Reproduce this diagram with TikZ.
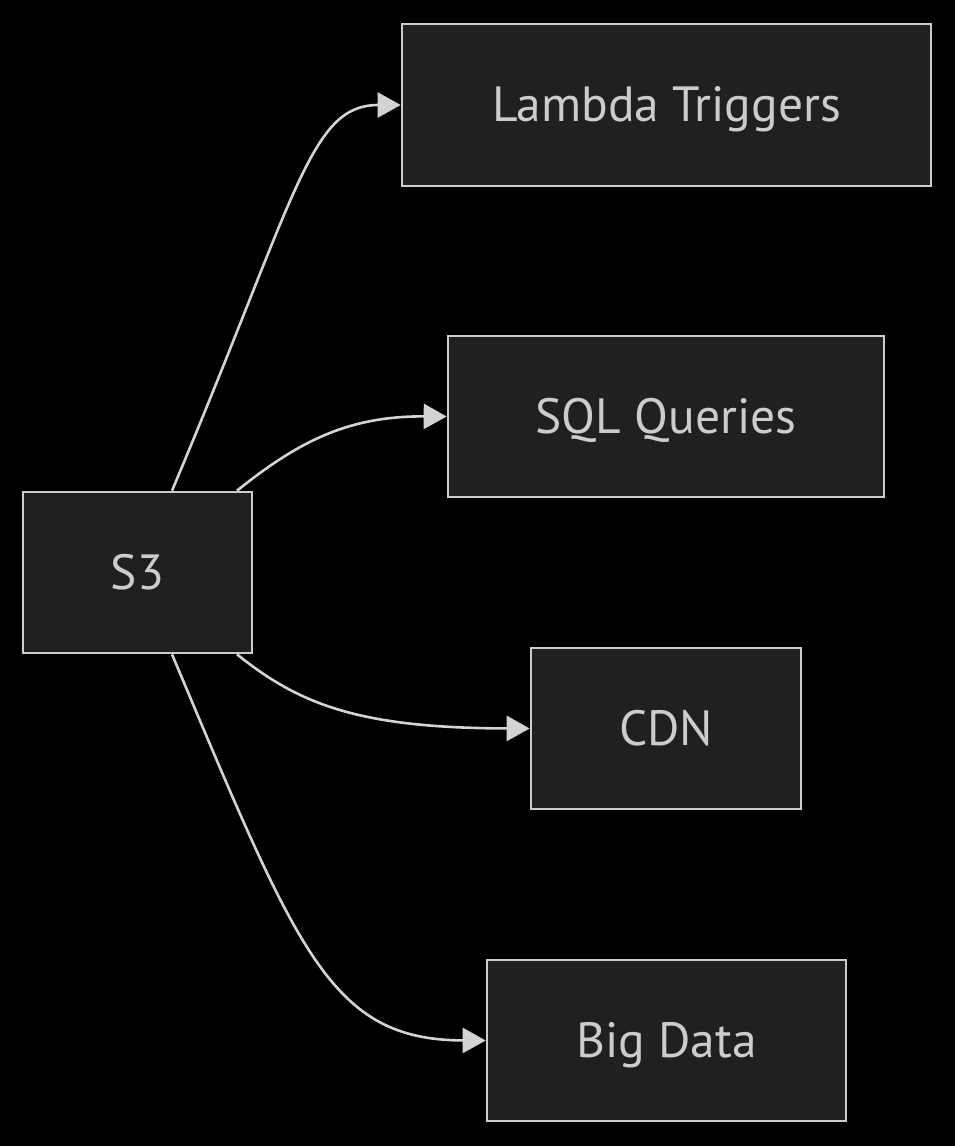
\documentclass[tikz,border=0pt]{standalone}
\usepackage{fontspec}
\setmainfont{PT Sans}
\usetikzlibrary{arrows.meta}
\definecolor{bg}{HTML}{000000}
\definecolor{boxfill}{HTML}{1F2020}
\definecolor{boxline}{HTML}{CCCCCC}
\definecolor{txt}{HTML}{CCCCCC}
\definecolor{edge}{HTML}{D3D3D3}
\begin{document}
\begin{tikzpicture}[x=1pt,y=-1pt,
  box/.style={draw=boxline,fill=boxfill,line width=2.6pt,text=txt,
    font=\fontsize{49.5}{56}\selectfont,inner sep=0pt,anchor=center,
    text height=33pt,text depth=0pt},
  link/.style={draw=edge,line width=2.6pt,
    -{Triangle[length=23pt,width=25pt]}}]
\fill[bg] (0,0) rectangle (955,1146);
\useasboundingbox (0,0) rectangle (955,1146);
\node[box,minimum width=229pt,minimum height=161pt] (s3) at (137.5,572.5) {S3};
\node[box,minimum width=529pt,minimum height=162pt] (lam) at (666.5,105) {Lambda Triggers};
\node[box,minimum width=436pt,minimum height=161pt] (sql) at (666,416.5) {SQL Queries};
\node[box,minimum width=270pt,minimum height=161pt] (cdn) at (666,728.5) {CDN};
\node[box,minimum width=359pt,minimum height=161pt] (big) at (666.5,1040.5) {Big Data};
\draw[link] ([xshift=34.5pt]s3.north) .. controls (298,192) and (310,105) .. (lam.west);
\draw[link] ([xshift=99.5pt]s3.north) .. controls (300,440) and (350,416) .. (sql.west);
\draw[link] ([xshift=99.5pt]s3.south) .. controls (300,705) and (360,728) .. (cdn.west);
\draw[link] ([xshift=34.5pt]s3.south) .. controls (298,953) and (330,1040) .. (big.west);
\end{tikzpicture}
\end{document}
